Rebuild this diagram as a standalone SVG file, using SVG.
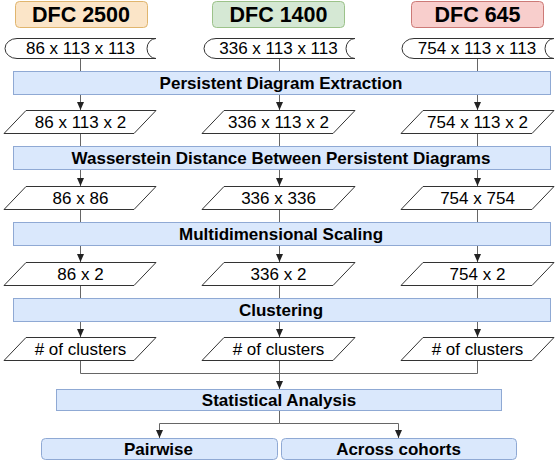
<svg xmlns="http://www.w3.org/2000/svg" width="558" height="462" viewBox="0 0 558 462">
<style>
.hdr{font-family:"Liberation Sans",Arial,sans-serif;font-weight:bold;font-size:21.5px;text-anchor:middle;fill:#000}
.lbl{font-family:"Liberation Sans",Arial,sans-serif;font-size:17px;text-anchor:middle;fill:#000}
.bar{fill:#dae8fc;stroke:#8fa9d4;stroke-width:1}
.bt{font-family:"Liberation Sans",Arial,sans-serif;font-weight:bold;font-size:17px;text-anchor:middle;fill:#000}
.shape{fill:#fff;stroke:#333;stroke-width:1}
.conn{fill:none;stroke:#666;stroke-width:1}
</style>
<defs>
<marker id="arr" viewBox="0 0 8 8" refX="8" refY="4" markerWidth="8" markerHeight="8" markerUnits="userSpaceOnUse" orient="auto">
<path d="M0,0.5 L8,4 L0,7.5 Z" fill="#222"/>
</marker>
</defs>
<g id="connectors">
<path class="conn" d="M80.5,58 V110" marker-end="url(#arr)"/>
<path class="conn" d="M279.5,58 V110" marker-end="url(#arr)"/>
<path class="conn" d="M477.5,58 V110" marker-end="url(#arr)"/>
<path class="conn" d="M80.5,133 V186" marker-end="url(#arr)"/>
<path class="conn" d="M279.5,133 V186" marker-end="url(#arr)"/>
<path class="conn" d="M477.5,133 V186" marker-end="url(#arr)"/>
<path class="conn" d="M80.5,209 V262" marker-end="url(#arr)"/>
<path class="conn" d="M279.5,209 V262" marker-end="url(#arr)"/>
<path class="conn" d="M477.5,209 V262" marker-end="url(#arr)"/>
<path class="conn" d="M80.5,285 V337" marker-end="url(#arr)"/>
<path class="conn" d="M279.5,285 V337" marker-end="url(#arr)"/>
<path class="conn" d="M477.5,285 V337" marker-end="url(#arr)"/>
<path class="conn" d="M80.5,360 V373.5 H279.5"/>
<path class="conn" d="M477.5,360 V373.5 H279.5"/>
<path class="conn" d="M279.5,360 V389" marker-end="url(#arr)"/>
<path class="conn" d="M279.5,410 V423.5 H159.5 V438" marker-end="url(#arr)"/>
<path class="conn" d="M279.5,423.5 H398.5 V438" marker-end="url(#arr)"/>
</g>
<g id="hdr-2500">
<rect x="15.5" y="1.5" width="132" height="26" rx="4" fill="#fbe5c8" stroke="#e0b56e"/>
<text class="hdr" x="81" y="22">DFC 2500</text>
</g>
<g id="hdr-1400">
<rect x="212.5" y="1.5" width="132" height="26" rx="4" fill="#d5e8d4" stroke="#9cc28a"/>
<text class="hdr" x="278.5" y="22">DFC 1400</text>
</g>
<g id="hdr-645">
<rect x="411.5" y="1.5" width="132" height="26" rx="4" fill="#f8cecc" stroke="#cc7a77"/>
<text class="hdr" x="477.5" y="22">DFC 645</text>
</g>
<g id="in-2500">
<path class="shape" d="M17,38.5 H156 A9 10 0 0 0 156,58.5 H17 A12 10 0 0 1 17,38.5 Z"/>
<text class="lbl" x="80.5" y="54">86 x 113 x 113</text>
</g>
<g id="in-1400">
<path class="shape" d="M216,38.5 H355 A9 10 0 0 0 355,58.5 H216 A12 10 0 0 1 216,38.5 Z"/>
<text class="lbl" x="278.5" y="54">336 x 113 x 113</text>
</g>
<g id="in-645">
<path class="shape" d="M414,38.5 H554 A9 10 0 0 0 554,58.5 H414 A12 10 0 0 1 414,38.5 Z"/>
<text class="lbl" x="477" y="54">754 x 113 x 113</text>
</g>
<g id="bar-pde">
<rect class="bar" x="13.5" y="71.5" width="537" height="23"/>
<text class="bt" x="281" y="89">Persistent Diagram Extraction</text>
</g>
<g id="pd-2500">
<polygon class="shape" points="26,110.5 156,110.5 134,133.5 4,133.5"/>
<text class="lbl" x="80.5" y="128">86 x 113 x 2</text>
</g>
<g id="pd-1400">
<polygon class="shape" points="224,110.5 355,110.5 333,133.5 202,133.5"/>
<text class="lbl" x="278.5" y="128">336 x 113 x 2</text>
</g>
<g id="pd-645">
<polygon class="shape" points="423,110.5 554,110.5 532,133.5 401,133.5"/>
<text class="lbl" x="477.5" y="128">754 x 113 x 2</text>
</g>
<g id="bar-wd">
<rect class="bar" x="13.5" y="146.5" width="537" height="23"/>
<text class="bt" x="281" y="164">Wasserstein Distance Between Persistent Diagrams</text>
</g>
<g id="wd-2500">
<polygon class="shape" points="26,186.5 156,186.5 134,209.5 4,209.5"/>
<text class="lbl" x="80.5" y="204">86 x 86</text>
</g>
<g id="wd-1400">
<polygon class="shape" points="224,186.5 355,186.5 333,209.5 202,209.5"/>
<text class="lbl" x="278.5" y="204">336 x 336</text>
</g>
<g id="wd-645">
<polygon class="shape" points="423,186.5 554,186.5 532,209.5 401,209.5"/>
<text class="lbl" x="477.5" y="204">754 x 754</text>
</g>
<g id="bar-mds">
<rect class="bar" x="13.5" y="222.5" width="537" height="23"/>
<text class="bt" x="281" y="240">Multidimensional Scaling</text>
</g>
<g id="mds-2500">
<polygon class="shape" points="26,262.5 156,262.5 134,285.5 4,285.5"/>
<text class="lbl" x="80.5" y="280">86 x 2</text>
</g>
<g id="mds-1400">
<polygon class="shape" points="224,262.5 355,262.5 333,285.5 202,285.5"/>
<text class="lbl" x="278.5" y="280">336 x 2</text>
</g>
<g id="mds-645">
<polygon class="shape" points="423,262.5 554,262.5 532,285.5 401,285.5"/>
<text class="lbl" x="477.5" y="280">754 x 2</text>
</g>
<g id="bar-cl">
<rect class="bar" x="13.5" y="298.5" width="537" height="23"/>
<text class="bt" x="281" y="316">Clustering</text>
</g>
<g id="cl-2500">
<polygon class="shape" points="26,337.5 156,337.5 134,360.5 4,360.5"/>
<text class="lbl" x="80.5" y="355"># of clusters</text>
</g>
<g id="cl-1400">
<polygon class="shape" points="224,337.5 355,337.5 333,360.5 202,360.5"/>
<text class="lbl" x="278.5" y="355"># of clusters</text>
</g>
<g id="cl-645">
<polygon class="shape" points="423,337.5 554,337.5 532,360.5 401,360.5"/>
<text class="lbl" x="477.5" y="355"># of clusters</text>
</g>
<g id="bar-sa">
<rect class="bar" x="56.5" y="389.5" width="445" height="21"/>
<text class="bt" x="279" y="406">Statistical Analysis</text>
</g>
<g id="pairwise">
<rect class="bar" x="41.5" y="438.5" width="236" height="21" rx="4"/>
<text class="bt" x="158.5" y="455">Pairwise</text>
</g>
<g id="across">
<rect class="bar" x="281.5" y="438.5" width="235" height="21" rx="4"/>
<text class="bt" x="398.5" y="455">Across cohorts</text>
</g>
</svg>
